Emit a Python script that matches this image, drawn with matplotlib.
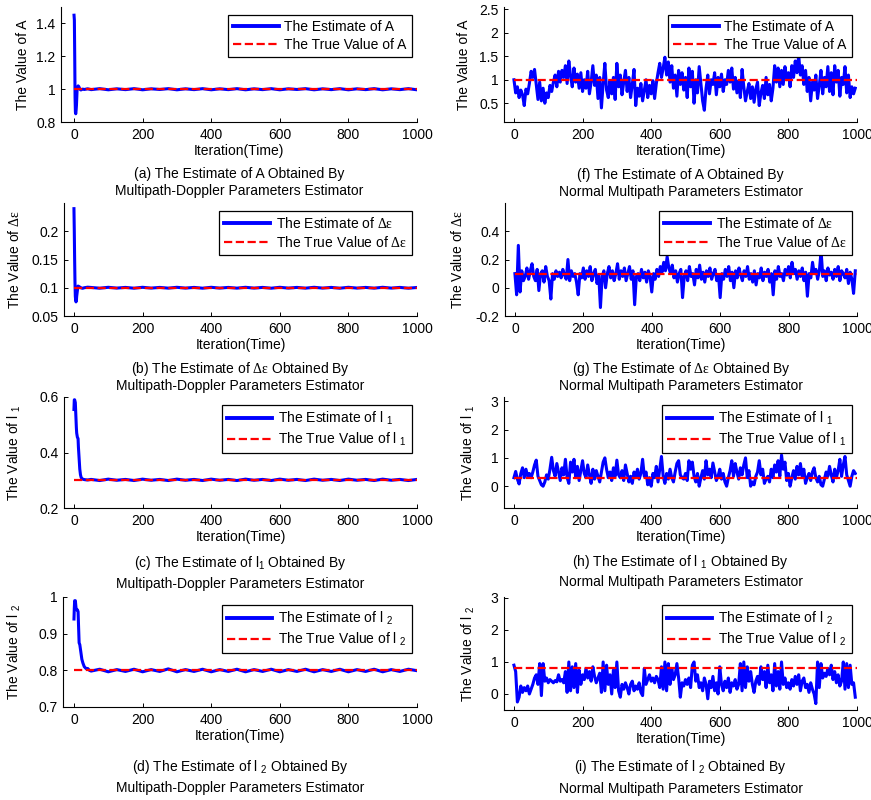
"""Estimates of A, delta-epsilon, l1 and l2: Multipath-Doppler vs normal estimator."""
import numpy as np
import matplotlib
matplotlib.use('Agg')
import matplotlib.pyplot as plt
from matplotlib.ticker import FuncFormatter

plt.rcParams['font.family'] = ['Liberation Sans', 'DejaVu Sans']
plt.rcParams['font.size'] = 10
plt.rcParams['mathtext.fontset'] = 'custom'
plt.rcParams['mathtext.rm'] = 'Liberation Serif'
plt.rcParams['mathtext.it'] = 'Liberation Serif'
plt.rcParams['mathtext.sf'] = 'Liberation Sans'

W, H = 871, 800

# True values of the parameters
TRUE_A = 1.0
TRUE_DE = 0.1
TRUE_L1 = 0.3
TRUE_L2 = 0.8

# Multipath-Doppler estimator: transient part (iteration, value)
md_a_iter = [0, 1, 2, 3, 4, 5, 6, 7, 8, 9, 10, 12, 14, 16, 18, 20, 25, 30, 40]
md_a_val = [1.45, 1.42, 1.2, 0.95, 0.86, 0.85, 0.87, 0.9, 0.95, 1.0, 1.01,
            1.02, 1.015, 1.005, 0.998, 0.995, 1.0, 0.998, 1.002]
md_de_iter = [0, 1, 2, 3, 4, 5, 6, 7, 8, 10, 12, 15, 20, 25, 30, 40]
md_de_val = [0.24, 0.2, 0.15, 0.11, 0.085, 0.078, 0.075, 0.077, 0.085, 0.095,
             0.103, 0.102, 0.1, 0.099, 0.1, 0.101]
md_l1_iter = [0, 1, 2, 3, 4, 5, 6, 7, 8, 10, 12, 13, 15, 17, 19, 21, 24, 28,
              32, 40]
md_l1_val = [0.555, 0.59, 0.59, 0.585, 0.58, 0.55, 0.52, 0.49, 0.47, 0.455,
             0.45, 0.42, 0.38, 0.34, 0.32, 0.31, 0.305, 0.303, 0.302, 0.301]
md_l2_iter = [0, 1, 2, 4, 6, 8, 10, 12, 13, 15, 17, 20, 23, 26, 30, 35, 40,
              45]
md_l2_val = [0.94, 0.97, 0.99, 0.99, 0.97, 0.965, 0.965, 0.96, 0.93, 0.875,
             0.87, 0.85, 0.83, 0.82, 0.81, 0.805, 0.805, 0.8]

# Multipath-Doppler estimator: steady part, iterations 50..1000 every 25
md_a_steady = [0.997, 1.003, 0.996, 1.002, 0.997, 1.003, 0.996, 1.002, 0.998,
               1.003, 0.996, 1.002, 0.997, 1.003, 0.996, 1.002, 0.997, 1.003,
               0.996, 1.002, 0.997, 1.003, 0.996, 1.002, 0.998, 1.003, 0.996,
               1.002, 0.997, 1.003, 0.996, 1.002, 0.997, 1.003, 0.996, 1.002,
               0.997, 1.003, 0.996]
md_de_steady = [0.1005, 0.0992, 0.1008, 0.0994, 0.1006, 0.0992, 0.1008,
                0.0994, 0.1006, 0.0993, 0.1008, 0.0994, 0.1006, 0.0992,
                0.1008, 0.0994, 0.1006, 0.0993, 0.1008, 0.0994, 0.1006,
                0.0992, 0.1008, 0.0994, 0.1006, 0.0993, 0.1008, 0.0994,
                0.1006, 0.0992, 0.1008, 0.0994, 0.1006, 0.0993, 0.1008,
                0.0994, 0.1006, 0.0992, 0.1005]
md_l1_steady = [0.303, 0.299, 0.304, 0.3, 0.303, 0.299, 0.304, 0.3, 0.303,
                0.299, 0.304, 0.3, 0.303, 0.299, 0.304, 0.3, 0.303, 0.299,
                0.304, 0.3, 0.303, 0.299, 0.304, 0.3, 0.303, 0.299, 0.304,
                0.3, 0.303, 0.299, 0.304, 0.3, 0.303, 0.299, 0.304, 0.3,
                0.303, 0.299, 0.303]
md_l2_steady = [0.798, 0.803, 0.796, 0.802, 0.797, 0.803, 0.796, 0.802, 0.797,
                0.804, 0.796, 0.802, 0.797, 0.803, 0.796, 0.802, 0.797, 0.803,
                0.796, 0.802, 0.797, 0.803, 0.796, 0.802, 0.797, 0.803, 0.796,
                0.802, 0.797, 0.803, 0.796, 0.802, 0.797, 0.803, 0.796, 0.802,
                0.797, 0.803, 0.799]

# Normal multipath estimator, iterations 0..995 every 5
nm_a = [
    1.0, 0.72, 0.85, 0.62, 0.78, 0.68, 0.45, 0.8, 0.7, 0.92, 1.18, 1.05, 1.22, 0.9, 0.58, 0.95, 0.55, 0.82, 0.5, 0.72,
    0.62, 0.88, 0.75, 0.95, 1.1, 0.85, 1.18, 0.95, 1.2, 1.05, 1.3, 0.92, 1.4, 1.08, 0.85, 1.25, 0.95, 1.12, 0.82, 1.15,
    0.75, 1.0, 0.82, 1.18, 0.7, 0.95, 1.3, 0.88, 1.1, 0.6, 1.05, 0.4, 0.92, 1.35, 0.78, 0.62, 0.98, 0.7, 1.05, 0.58,
    1.35, 0.85, 1.1, 0.68, 0.95, 1.2, 0.75, 1.05, 0.62, 0.9, 1.22, 0.45, 0.82, 0.65, 0.92, 0.55, 0.78, 1.0, 0.62, 0.88,
    0.7, 0.98, 0.6, 0.92, 1.15, 1.35, 1.05, 1.25, 1.48, 1.1, 1.38, 0.95, 1.3, 0.82, 1.1, 0.65, 1.2, 0.9, 1.15, 0.78,
    1.05, 0.62, 1.25, 0.85, 1.18, 0.5, 1.0, 0.72, 1.28, 0.92, 0.55, 0.35, 0.82, 1.1, 0.7, 1.0, 0.9, 1.15, 0.68, 1.05,
    0.85, 1.12, 0.75, 1.0, 0.9, 1.2, 0.95, 1.25, 0.8, 1.05, 0.72, 0.98, 0.62, 1.22, 0.85, 0.55, 0.75, 0.92, 0.6, 0.85,
    0.52, 0.8, 0.95, 0.45, 0.72, 0.88, 0.6, 1.05, 0.68, 0.9, 0.55, 0.82, 1.3, 0.95, 1.25, 0.85, 1.2, 0.9, 1.28, 1.0,
    1.15, 0.85, 1.3, 1.05, 1.4, 1.15, 1.52, 1.1, 1.3, 0.9, 1.2, 0.75, 1.05, 0.55, 0.95, 0.78, 1.1, 0.6, 0.88, 1.2,
    0.7, 1.05, 0.85, 1.28, 0.75, 1.15, 0.68, 1.3, 0.95, 1.2, 0.65, 1.05, 0.9, 1.28, 0.72, 1.1, 0.62, 0.85, 0.7, 0.82,
]
nm_de = [
    0.1, -0.05, 0.3, -0.03, 0.12, 0.05, 0.08, 0.14, 0.06, 0.12, 0.17, 0.08, 0.05, 0.13, -0.02, 0.1, 0.12, 0.04, 0.15, 0.08,
    0.05, -0.08, 0.1, 0.06, 0.12, 0.08, 0.11, 0.07, 0.13, 0.09, 0.06, 0.2, 0.05, 0.12, 0.08, 0.1, 0.04, -0.05, 0.1, 0.07,
    0.14, 0.06, 0.12, 0.08, 0.15, 0.05, 0.1, 0.13, 0.03, 0.09, -0.14, 0.08, 0.12, 0.0, 0.1, 0.15, 0.07, 0.12, 0.05, 0.1,
    0.17, 0.06, 0.12, 0.08, 0.14, 0.05, 0.1, 0.15, 0.06, 0.12, -0.12, 0.08, 0.1, 0.05, 0.13, 0.07, 0.11, 0.04, 0.12, 0.08,
    -0.03, 0.1, 0.06, 0.13, 0.08, 0.15, 0.11, 0.18, 0.12, 0.22, 0.14, 0.1, 0.16, 0.07, 0.12, 0.04, 0.1, 0.13, -0.07, 0.08,
    0.12, 0.05, 0.15, 0.08, 0.1, 0.02, 0.13, 0.07, 0.16, 0.06, 0.11, 0.04, 0.12, 0.08, 0.14, 0.06, 0.1, 0.13, 0.05, 0.09,
    -0.07, 0.1, 0.06, 0.13, 0.08, 0.15, 0.05, 0.11, 0.0, 0.12, 0.07, 0.14, 0.09, 0.05, 0.12, 0.08, 0.15, 0.06, 0.1, 0.04,
    0.12, 0.02, 0.1, 0.07, 0.14, 0.05, 0.11, 0.08, 0.13, 0.04, 0.1, -0.05, 0.12, 0.06, 0.15, 0.08, 0.1, 0.05, 0.13, 0.09,
    0.15, 0.07, 0.18, 0.1, 0.13, 0.06, 0.12, 0.08, 0.14, 0.05, 0.11, -0.06, 0.1, 0.07, 0.18, 0.1, 0.13, 0.06, 0.12, 0.26,
    0.08, 0.12, 0.05, 0.14, 0.09, 0.11, 0.06, 0.13, 0.08, 0.15, 0.05, 0.12, 0.1, 0.07, 0.13, 0.03, 0.11, 0.06, -0.04, 0.12,
]
nm_l1 = [
    0.3, 0.52, 0.25, 0.08, 0.45, 0.65, 0.3, 0.6, 0.35, 0.45, 0.3, 0.5, 0.75, 0.92, 0.35, 0.2, 0.05, 0.0, 0.15, 0.4,
    0.25, 0.6, 1.02, 0.55, 0.35, 0.8, 0.5, 0.2, 0.65, 0.4, 0.95, 0.3, 0.1, 0.85, 0.5, 0.95, 0.3, 0.7, 0.2, 0.55,
    0.9, 0.45, 0.3, 0.75, 0.4, 0.1, 0.6, 0.25, 0.55, 0.35, 0.15, 0.5, 0.85, 1.0, 0.6, 0.3, 0.5, 0.2, 0.65, 0.35,
    0.92, 0.4, 0.3, 0.55, 0.2, 0.75, 0.45, 0.15, 0.35, 0.1, 0.5, 0.3, 0.6, 0.25, 0.45, 0.95, 0.35, 0.5, 0.05, 0.3,
    0.0, 0.45, 0.3, 0.7, 0.15, 0.6, 1.05, 0.35, 0.1, 0.45, 0.25, 0.6, 0.3, 0.15, 0.5, 0.8, 0.9, 0.4, 0.3, 0.25,
    0.45, 0.2, 0.9, 0.6, 0.85, 0.35, 0.15, 0.45, 0.0, 0.3, 0.55, 0.25, 0.9, 0.4, 0.6, 0.3, 0.82, 0.5, 0.2, 0.35,
    0.6, 0.25, 0.45, 0.15, 0.0, 0.3, 0.55, 0.9, 0.35, 0.8, 0.5, 0.25, 0.65, 0.4, 0.75, 1.0, 0.3, 0.55, 0.0, 0.15,
    0.05, 0.35, 0.5, 0.9, 0.4, 0.6, 0.1, 0.25, 0.35, 0.15, 0.6, 0.3, 0.75, 0.5, 0.9, 0.35, 1.1, 0.6, 0.85, 0.2,
    0.45, 0.0, 0.3, 0.55, 0.25, 0.7, 0.4, 0.8, 0.35, 0.6, 0.1, 0.3, 0.45, 0.2, 0.5, 0.65, 0.3, 0.15, 0.35, 0.05,
    0.0, 0.25, 0.5, 0.35, 0.7, 0.4, 0.15, 0.6, 0.3, 0.55, 0.95, 0.35, 0.75, 1.05, 0.4, 0.2, 0.0, 0.35, 0.55, 0.45,
]
nm_l2 = [
    0.9, 0.7, -0.25, -0.1, 0.25, 0.05, 0.2, 0.1, 0.25, 0.0, 0.15, 0.3, 0.5, 0.6, 0.3, 0.95, -0.05, 0.95, 0.4, 0.5,
    0.35, 0.45, 0.4, 0.35, 0.42, 0.38, 0.6, 0.4, 0.45, 0.35, 0.7, 0.05, 1.0, 0.1, 0.85, 0.2, 0.95, 0.05, 0.75, 0.3,
    0.6, 0.45, 0.8, 0.5, 0.7, 0.4, 0.85, 0.55, 0.35, 0.5, 0.65, 0.05, 1.0, 0.1, 0.9, 0.3, 0.6, 0.0, 0.75, 0.2,
    1.0, 0.1, -0.1, 0.3, 0.15, 0.35, 0.2, 0.0, 0.3, 0.4, 0.1, 0.25, 0.15, 0.35, 0.05, -0.05, 0.8, 0.3, 0.45, 0.6,
    0.4, 0.5, 0.35, 0.55, 0.45, 0.2, 0.85, 0.15, 1.0, 0.1, 0.95, 0.3, 0.8, 0.45, 0.6, 0.95, 0.5, -0.1, 0.35, 0.25,
    0.45, 0.3, 0.5, 0.2, 0.9, 1.0, 0.4, 0.6, 0.2, 0.35, 0.1, 0.5, 0.3, -0.15, 0.4, 0.2, 0.55, 0.1, 0.35, 0.0,
    0.85, 0.3, 0.1, 0.4, 0.2, 0.5, 0.05, 0.35, 0.25, 0.45, 0.15, 0.3, 0.95, 0.1, 1.0, 0.2, 0.85, 0.4, 0.7, 0.3,
    0.05, 0.4, 0.55, 0.3, 0.85, 0.45, 0.7, 0.2, 0.9, 0.35, 0.6, 0.1, 0.95, 0.25, 0.7, 0.15, 1.0, 0.3, 0.5, 0.2,
    0.35, 0.15, 0.45, 0.25, 0.55, 0.3, 0.6, 0.1, 0.4, 0.5, 0.2, 0.3, 0.05, 0.35, 0.15, 0.0, -0.3, 1.0, 0.2, 0.95,
    0.5, 0.65, 0.55, 0.8, 0.6, 0.9, 0.45, 0.7, 0.35, 0.6, 0.25, 0.4, 1.0, 0.15, 0.95, 0.2, 0.9, 0.3, 0.35, -0.1,
]

SUB1 = r'${}_\mathsf{1}$'
SUB2 = r'${}_\mathsf{2}$'
DE = r'$\Delta\varepsilon$'


def steady_series(iters, vals, steady):
    x = list(iters) + list(np.linspace(50, 1000, len(steady)))
    y = list(vals) + list(steady)
    return x, y


def noisy_series(vals):
    return np.linspace(0, 995, len(vals)), vals


def make_panel(fig, box, x, y, true_val, name, xlim0, ylim, yticks, ylab_x,
               lw=2.2):
    left, top, right, bottom = box
    ax = fig.add_axes([left / W, 1 - bottom / H, (right - left) / W,
                       (bottom - top) / H])
    ax.plot(x, y, color='#0000ff', lw=lw,
            label='The Estimate of ' + name)
    ax.plot([0, 1000], [true_val, true_val], color='#ff0000', lw=1.6,
            ls='--', label='The True Value of ' + name)
    ax.set_xlim(xlim0, 1000)
    ax.set_ylim(*ylim)
    ax.set_xticks([0, 200, 400, 600, 800, 1000])
    ax.set_yticks(yticks)
    ax.yaxis.set_major_formatter(FuncFormatter(lambda v, p: '%g' % round(v, 4)))
    for side in ['top', 'right']:
        ax.spines[side].set_visible(False)
    for side in ['left', 'bottom']:
        ax.spines[side].set_linewidth(0.8)
    ax.tick_params(direction='in', length=3, width=0.7, labelsize=10, pad=4)
    ax.set_xlabel('Iteration(Time)', va='center')
    ax.xaxis.set_label_coords(0.5, -(29.0 / (bottom - top)))
    ax.set_ylabel('The Value of ' + name, va='center')
    ax.yaxis.set_label_coords(ylab_x, 0.5)
    leg = ax.legend(loc='upper right', bbox_to_anchor=(0.985, 0.93),
                    fancybox=False, framealpha=1, edgecolor='black',
                    handlelength=3.3, handletextpad=0.4, borderpad=0.35,
                    labelspacing=0.3, borderaxespad=0)
    leg.get_frame().set_linewidth(0.9)
    leg.get_lines()[0].set_linewidth(2.8)
    return ax


def caption(fig, box, lines, ys):
    cx = (box[0] + box[2]) / 2 / W
    for text, yy in zip(lines, ys):
        fig.text(cx, 1 - yy / H, text, ha='center', va='center', fontsize=10)


def main():
    fig = plt.figure(figsize=(W / 100, H / 100), dpi=100)

    # Left column: Multipath-Doppler estimator
    box = (61, 7, 417, 122)
    x, y = steady_series(md_a_iter, md_a_val, md_a_steady)
    make_panel(fig, box, x, y, TRUE_A, 'A', -38, (0.8, 1.5),
               [0.8, 1.0, 1.2, 1.4], -0.107)
    caption(fig, box, ['(a) The Estimate of A Obtained By',
                       'Multipath-Doppler Parameters Estimator'], [174, 191])

    box = (64, 203, 417, 316)
    x, y = steady_series(md_de_iter, md_de_val, md_de_steady)
    make_panel(fig, box, x, y, TRUE_DE, DE, -29, (0.05, 0.25),
               [0.05, 0.1, 0.15, 0.2], -0.139)
    caption(fig, box, ['(b) The Estimate of ' + DE + ' Obtained By',
                       'Multipath-Doppler Parameters Estimator'], [369, 386])

    box = (64, 397, 417, 508)
    x, y = steady_series(md_l1_iter, md_l1_val, md_l1_steady)
    make_panel(fig, box, x, y, TRUE_L1, 'l ' + SUB1, -29, (0.2, 0.6),
               [0.2, 0.4, 0.6], -0.139)
    caption(fig, box, ['(c) The Estimate of l' + SUB1 + ' Obtained By',
                       'Multipath-Doppler Parameters Estimator'], [563, 584])

    box = (63, 597, 417, 707)
    x, y = steady_series(md_l2_iter, md_l2_val, md_l2_steady)
    make_panel(fig, box, x, y, TRUE_L2, 'l ' + SUB2, -32, (0.7, 1.0),
               [0.7, 0.8, 0.9, 1.0], -0.136)
    caption(fig, box, ['(d) The Estimate of l ' + SUB2 + ' Obtained By',
                       'Multipath-Doppler Parameters Estimator'], [767, 788])

    # Right column: normal multipath estimator
    box = (504, 7, 857, 122)
    x, y = noisy_series(nm_a)
    make_panel(fig, box, x, y, TRUE_A, 'A', -29, (0.1, 2.55),
               [0.5, 1.0, 1.5, 2.0, 2.5], -0.113)
    caption(fig, box, ['(f) The Estimate of A Obtained By',
                       'Normal Multipath Parameters Estimator'], [175, 192])

    box = (505, 203, 857, 316)
    x, y = noisy_series(nm_de)
    make_panel(fig, box, x, y, TRUE_DE, DE, -29, (-0.2, 0.6),
               [-0.2, 0.0, 0.2, 0.4], -0.134)
    caption(fig, box, ['(g) The Estimate of ' + DE + ' Obtained By',
                       'Normal Multipath Parameters Estimator'], [369, 386])

    box = (504, 397, 857, 508)
    x, y = noisy_series(nm_l1)
    make_panel(fig, box, x, y, TRUE_L1, 'l ' + SUB1, -29, (-0.77, 3.15),
               [0, 1, 2, 3], -0.10)
    caption(fig, box, ['(h) The Estimate of l ' + SUB1 + ' Obtained By',
                       'Normal Multipath Parameters Estimator'], [562, 582])

    box = (504, 597, 857, 710)
    x, y = noisy_series(nm_l2)
    make_panel(fig, box, x, y, TRUE_L2, 'l ' + SUB2, -29, (-0.5, 3.03),
               [0, 1, 2, 3], -0.10)
    caption(fig, box, ['(i) The Estimate of l ' + SUB2 + ' Obtained By',
                       'Normal Multipath Parameters Estimator'], [767, 789])

    fig.savefig('out.png', dpi=100)
    plt.close(fig)


if __name__ == '__main__':
    main()
